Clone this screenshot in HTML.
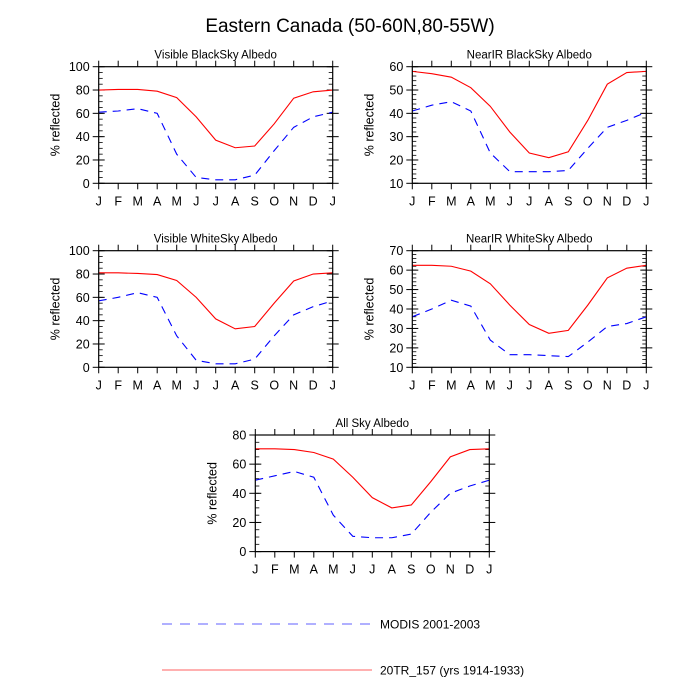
<!DOCTYPE html>
<html><head><meta charset="utf-8">
<style>
html,body{margin:0;padding:0;background:#fff;}
svg{display:block;font-family:"Liberation Sans",Helvetica,Arial,sans-serif;}
</style></head>
<body>
<svg id="chart" width="700" height="700" viewBox="0 0 700 700" xmlns="http://www.w3.org/2000/svg">
<rect width="700" height="700" fill="#fff"/>
<text x="350" y="32" text-anchor="middle" font-size="19">Eastern Canada (50-60N,80-55W)</text>
<g>
<line x1="162" y1="624" x2="372" y2="624" stroke="#8080ff" stroke-width="1.2" stroke-dasharray="10,8"/>
<text x="380" y="628.5" font-size="12">MODIS 2001-2003</text>
<line x1="162" y1="670" x2="372" y2="670" stroke="#ff8080" stroke-width="1.2"/>
<text x="380" y="674.5" font-size="12">20TR_157 (yrs 1914-1933)</text>
</g>
</svg>
<script>
const months = ["J","F","M","A","M","J","J","A","S","O","N","D","J"];
const visBlackModel = [80,80.5,80.5,79,73.5,57,37,30.5,32,51,73,78.5,80];
const visBlackModis = [61,62,64,60,25,5,3,3,7,28,48,57,61];
const nirBlackModel = [58,57,55.5,51,43,32,23,21,23.5,37,52.5,57.5,58];
const nirBlackModis = [41,43.5,45,41,23,15,15,15,15.5,25,34,37,40.5];
const visWhiteModel = [81,81,80.5,79.5,74.5,60,41.5,33,35,55,74,80,81];
const visWhiteModis = [57,60,64,60,27,6,3,3,7,27,45,52,57];
const nirWhiteModel = [62.5,62.5,62,59.5,53,42,32,27.5,29,42,56,61,62.5];
const nirWhiteModis = [36,40,44.5,41.5,24,16.5,16.5,16,15.5,23,31,32.5,36];
const allSkyModel = [70.5,70.5,70,68,63.5,51,37,30,32,48,65,70,70.5];
const allSkyModis = [49,52,55,51,25,10.5,9.5,9.5,12,27,40,45,49];
const ticksA = [0,20,40,60,80,100];
const ticksB = [10,20,30,40,50,60];
const ticksC = [0,20,40,60,80];
const ticksD = [10,20,30,40,50,60,70];

const NS="http://www.w3.org/2000/svg";
const svg=document.getElementById("chart");
function mk(tag,attrs,parent){const e=document.createElementNS(NS,tag);for(const k in attrs)e.setAttribute(k,attrs[k]);(parent||svg).appendChild(e);return e;}

function panel(key,title,x0,y0,w,h,ticks,minor,model,modis){
  const g=mk("g",{});
  
  
  const ymin=ticks[0],ymax=ticks[ticks.length-1];
  const xs=i=>x0+i*w/(months.length-1);
  const ys=v=>y0+h-(v-ymin)/(ymax-ymin)*h;
  const t=mk("text",{x:x0+w/2,y:y0-8,"text-anchor":"middle","font-size":"11.5"},g);
  t.textContent=title;
  
  
  for(let v=ymin;v<=ymax+1e-9;v+=minor){
    const y=ys(v);
    mk("line",{x1:x0,y1:y,x2:x0+4,y2:y,stroke:"#000","stroke-width":"0.8"},g);
    mk("line",{x1:x0+w,y1:y,x2:x0+w-4,y2:y,stroke:"#000","stroke-width":"0.8"},g);
  }
  ticks.forEach(v=>{
    const y=ys(v);
    mk("line",{x1:x0-6,y1:y,x2:x0+6,y2:y,stroke:"#000","stroke-width":"1"},g);
    mk("line",{x1:x0+w-6,y1:y,x2:x0+w+6,y2:y,stroke:"#000","stroke-width":"1"},g);
    const l=mk("text",{x:x0-9,y:y+4.5,"text-anchor":"end","font-size":"12.5"},g);
    l.textContent=v;
    
    
  });
  months.forEach((m,i)=>{
    const x=xs(i);
    mk("line",{x1:x,y1:y0+h,x2:x,y2:y0+h+6,stroke:"#000","stroke-width":"1"},g);
    mk("line",{x1:x,y1:y0,x2:x,y2:y0-6,stroke:"#000","stroke-width":"1"},g);
    const l=mk("text",{x:x,y:y0+h+22,"text-anchor":"middle","font-size":"12.5"},g);
    l.textContent=m;
    
    
  });
  const yl=mk("text",{x:0,y:0,"text-anchor":"middle","font-size":"12.5",transform:`translate(${x0-39},${y0+h/2}) rotate(-90)`},g);
  yl.textContent="% reflected";
  
  
  const ptsModel=model.map((v,i)=>xs(i)+","+ys(v)).join(" ");
  const ptsModis=modis.map((v,i)=>xs(i)+","+ys(v)).join(" ");
  const l2=mk("polyline",{points:ptsModis,fill:"none",stroke:"#0000ff","stroke-width":"1.1","stroke-dasharray":"8,6"},g);
  
  
  const l1=mk("polyline",{points:ptsModel,fill:"none",stroke:"#ff0000","stroke-width":"1.1"},g);
  
  
  const fr=mk("rect",{x:x0,y:y0,width:w,height:h,fill:"none",stroke:"#000","stroke-width":"1.2"},g);
  
  
}
panel("vis-black","Visible BlackSky Albedo",98.7,66.7,234,116.6,ticksA,5,visBlackModel,visBlackModis);
panel("nir-black","NearIR BlackSky Albedo",412.3,66.7,234,116.6,ticksB,2,nirBlackModel,nirBlackModis);
panel("vis-white","Visible WhiteSky Albedo",98.7,250.7,234,116.6,ticksA,5,visWhiteModel,visWhiteModis);
panel("nir-white","NearIR WhiteSky Albedo",412.3,250.7,234,116.6,ticksD,2,nirWhiteModel,nirWhiteModis);
panel("all-sky","All Sky Albedo",255.3,435,234,116.6,ticksC,5,allSkyModel,allSkyModis);
</script>
</body></html>
